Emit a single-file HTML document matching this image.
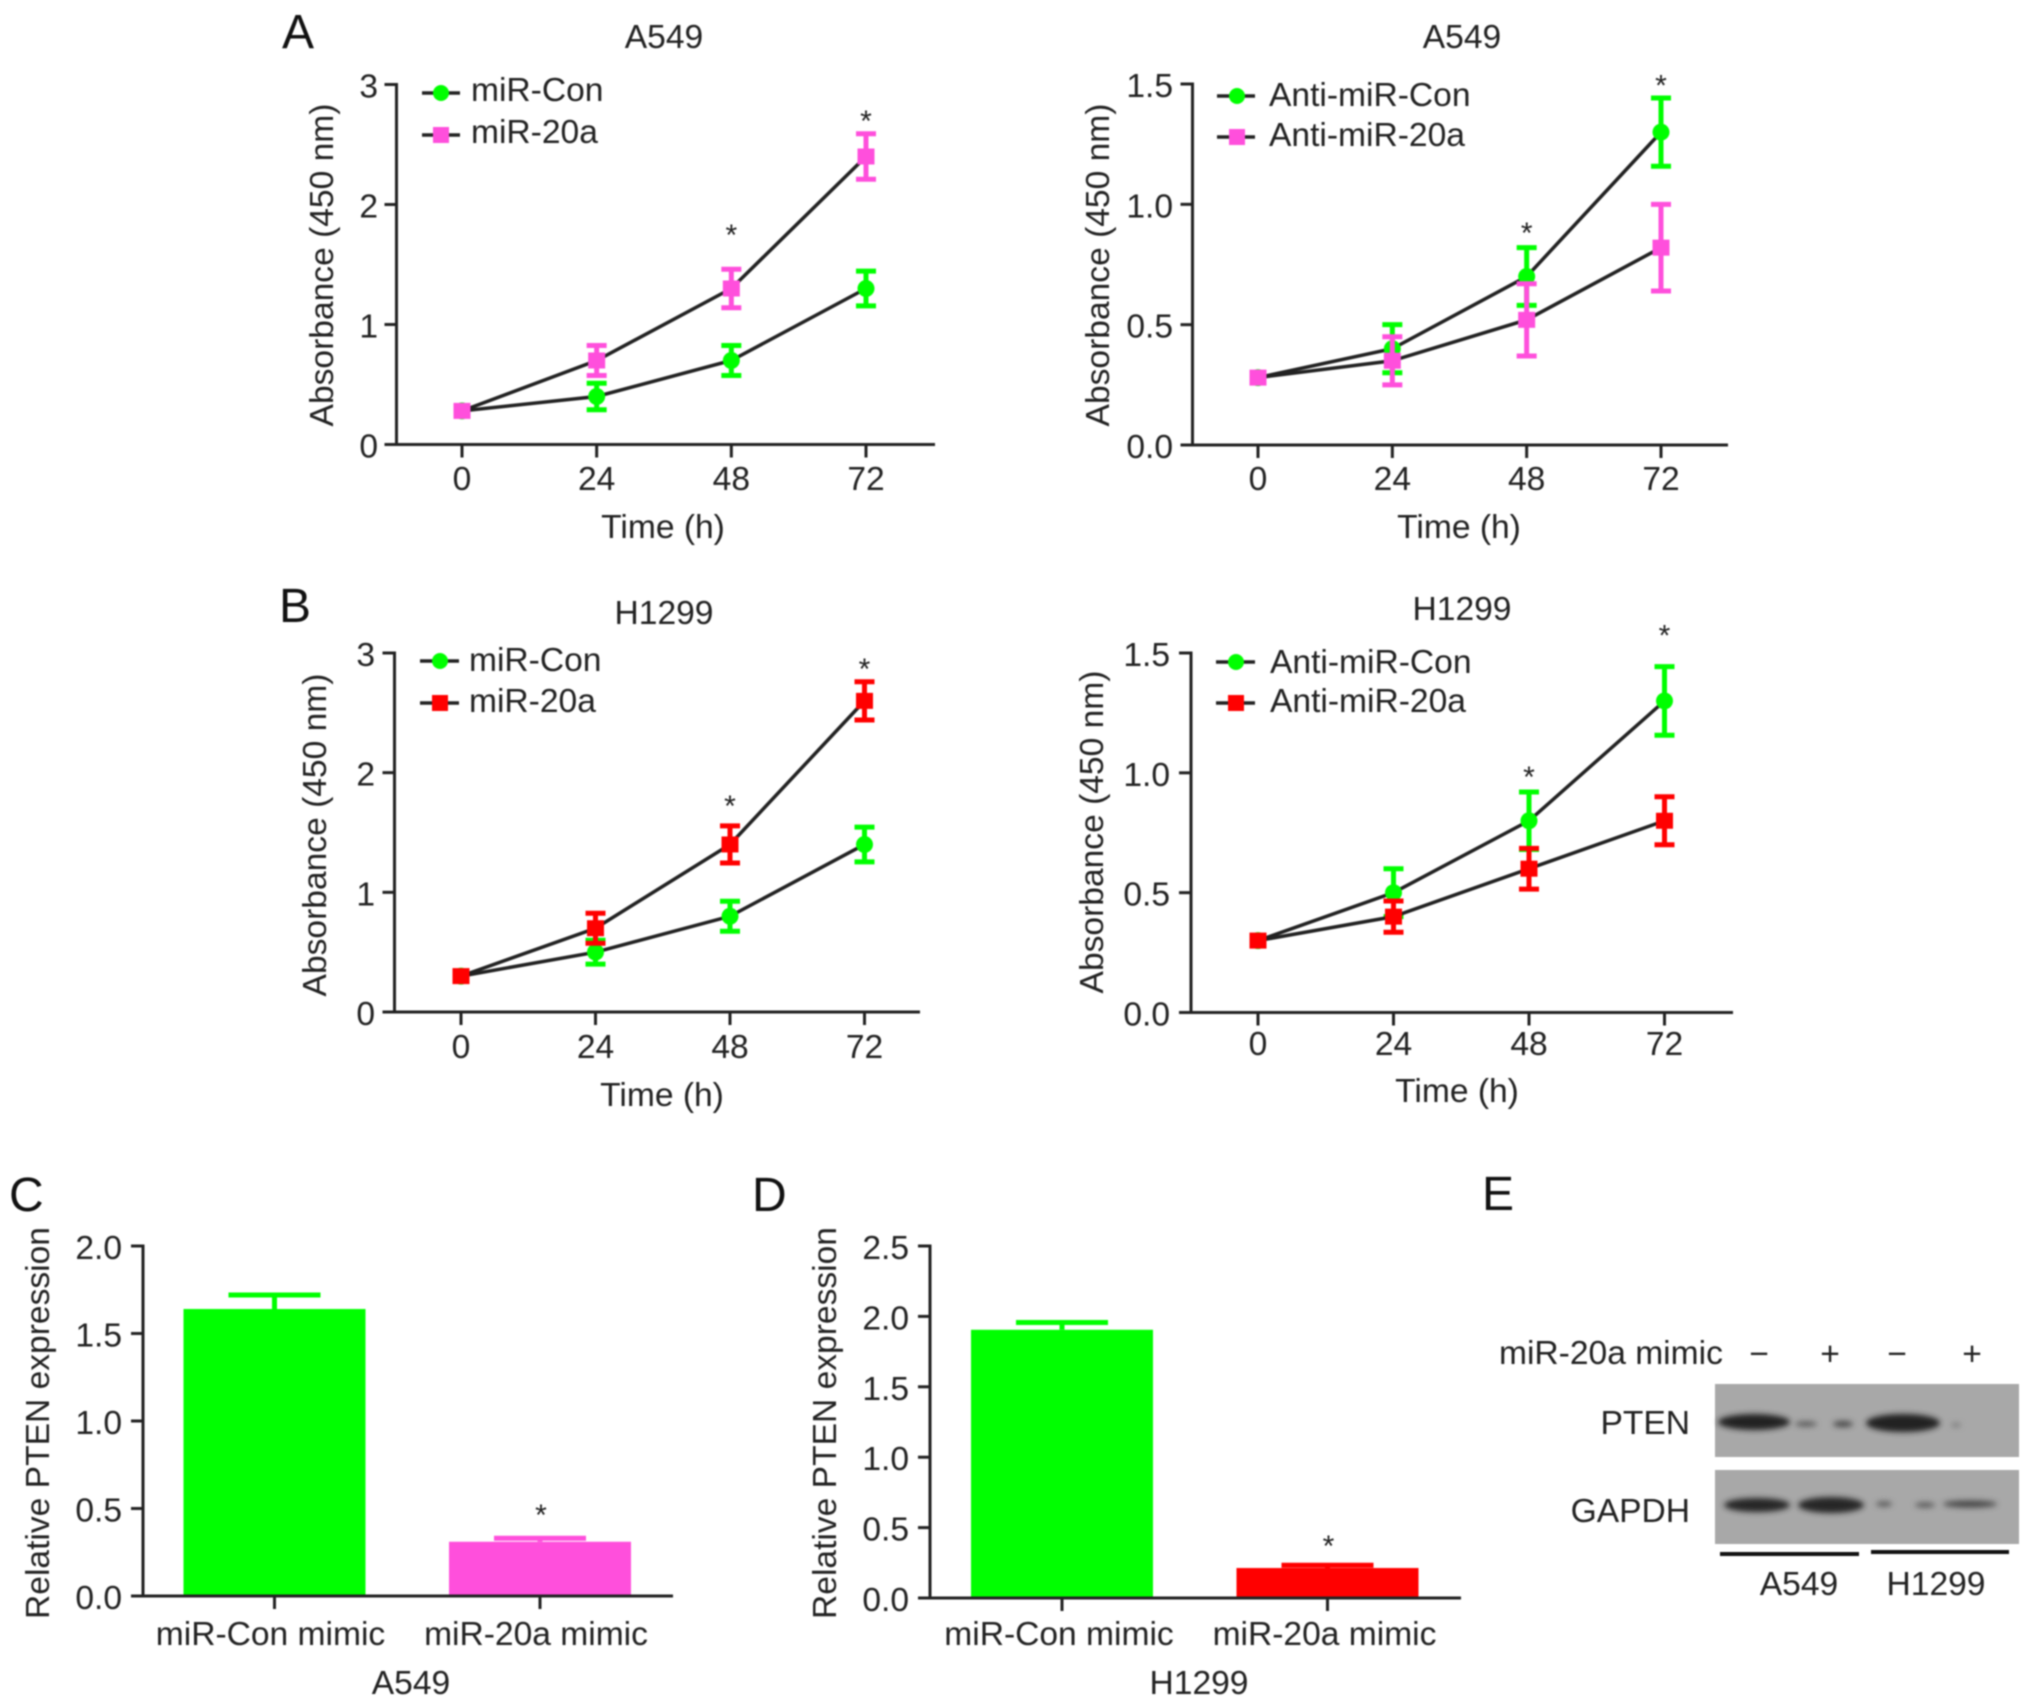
<!DOCTYPE html>
<html lang="en">
<head>
<meta charset="utf-8">
<title>PTEN and absorbance charts</title>
<style>
html,body{margin:0;padding:0;background:#fff;}
#figure{display:block;width:2032px;height:1708px;filter:blur(0.8px);}
text{font-family:"Liberation Sans",Arial,sans-serif;font-size:33.6px;fill:#222;}
.letter{font-size:48px;fill:#111;}
</style>
</head>
<body>
<svg id="figure" xmlns="http://www.w3.org/2000/svg" width="2032" height="1708" viewBox="0 0 2032 1708">
<defs>
<filter id="bandBlur" x="-30%" y="-80%" width="160%" height="260%"><feGaussianBlur stdDeviation="3"/></filter>
</defs>
<rect width="2032" height="1708" fill="#fff"/>

<!-- Panel A left -->
<g id="panel-a1">
<text class="letter" x="282" y="48">A</text>
<text x="664" y="48" text-anchor="middle">A549</text>
<text transform="translate(333,265) rotate(-90)" text-anchor="middle">Absorbance (450 nm)</text>
<text x="663" y="538" text-anchor="middle">Time (h)</text>
<g><line x1="422" x2="460" y1="93" y2="93" stroke="#222" stroke-width="3.5"/><circle cx="441" cy="93" r="8" fill="#00ff00"/><text x="471" y="101">miR-Con</text></g>
<g><line x1="422" x2="460" y1="135" y2="135" stroke="#222" stroke-width="3.5"/><rect x="433" y="127" width="16" height="16" fill="#ff4fdc"/><text x="471" y="143">miR-20a</text></g>
</g>

<!-- Panel A right -->
<g id="panel-a2">
<text x="1462" y="48" text-anchor="middle">A549</text>
<text transform="translate(1109,265) rotate(-90)" text-anchor="middle">Absorbance (450 nm)</text>
<text x="1459" y="538" text-anchor="middle">Time (h)</text>
<g><line x1="1217" x2="1255" y1="96" y2="96" stroke="#222" stroke-width="3.5"/><circle cx="1237" cy="96" r="8" fill="#00ff00"/><text x="1269" y="106">Anti-miR-Con</text></g>
<g><line x1="1217" x2="1255" y1="137" y2="137" stroke="#222" stroke-width="3.5"/><rect x="1229" y="129" width="16" height="16" fill="#ff4fdc"/><text x="1269" y="146">Anti-miR-20a</text></g>
</g>

<!-- Panel B left -->
<g id="panel-b1">
<text class="letter" x="279" y="622">B</text>
<text x="664" y="624" text-anchor="middle">H1299</text>
<text transform="translate(326,835) rotate(-90)" text-anchor="middle">Absorbance (450 nm)</text>
<text x="662" y="1106" text-anchor="middle">Time (h)</text>
<g><line x1="420" x2="459" y1="661" y2="661" stroke="#222" stroke-width="3.5"/><circle cx="440" cy="661" r="8" fill="#00ff00"/><text x="469" y="671">miR-Con</text></g>
<g><line x1="420" x2="459" y1="703" y2="703" stroke="#222" stroke-width="3.5"/><rect x="432" y="695" width="16" height="16" fill="#ff0000"/><text x="469" y="712">miR-20a</text></g>
</g>

<!-- Panel B right -->
<g id="panel-b2">
<text x="1462" y="620" text-anchor="middle">H1299</text>
<text transform="translate(1103,832) rotate(-90)" text-anchor="middle">Absorbance (450 nm)</text>
<text x="1457" y="1102" text-anchor="middle">Time (h)</text>
<g><line x1="1216" x2="1255" y1="662" y2="662" stroke="#222" stroke-width="3.5"/><circle cx="1236" cy="662" r="8" fill="#00ff00"/><text x="1270" y="673">Anti-miR-Con</text></g>
<g><line x1="1216" x2="1255" y1="703" y2="703" stroke="#222" stroke-width="3.5"/><rect x="1228" y="695" width="16" height="16" fill="#ff0000"/><text x="1270" y="712">Anti-miR-20a</text></g>
</g>

<!-- Panel C -->
<g id="panel-c">
<text class="letter" x="9" y="1211">C</text>
<text transform="translate(49,1423) rotate(-90)" text-anchor="middle">Relative PTEN expression</text>
<text x="411" y="1694" text-anchor="middle">A549</text>
</g>

<!-- Panel D -->
<g id="panel-d">
<text class="letter" x="752" y="1211">D</text>
<text transform="translate(836,1423) rotate(-90)" text-anchor="middle">Relative PTEN expression</text>
<text x="1199" y="1694" text-anchor="middle">H1299</text>
</g>

<!-- Panel E western blot -->
<g id="panel-e">
<text class="letter" x="1482" y="1210">E</text>
<text x="1499" y="1364">miR-20a mimic</text>
<text x="1759" y="1365" text-anchor="middle">−</text>
<text x="1830" y="1365" text-anchor="middle">+</text>
<text x="1897" y="1365" text-anchor="middle">−</text>
<text x="1972" y="1365" text-anchor="middle">+</text>
<text x="1690" y="1434" text-anchor="end">PTEN</text>
<text x="1690" y="1522" text-anchor="end">GAPDH</text>
<rect x="1715" y="1384" width="304" height="73" fill="#a8a8a8"/>
<rect x="1715" y="1470" width="304" height="74" fill="#a8a8a8"/>
<g filter="url(#bandBlur)" fill="#222">
<ellipse cx="1754" cy="1422" rx="36" ry="8"/>
<ellipse cx="1806" cy="1424" rx="11" ry="2.5" fill="#555"/>
<ellipse cx="1843" cy="1424" rx="10" ry="3" fill="#444"/>
<ellipse cx="1903" cy="1423" rx="37" ry="9"/>
<ellipse cx="1956" cy="1425" rx="5" ry="2" fill="#777"/>
</g>
<g filter="url(#bandBlur)" fill="#262626">
<ellipse cx="1757" cy="1505" rx="33" ry="7"/>
<ellipse cx="1831" cy="1505" rx="33" ry="8"/>
<ellipse cx="1884" cy="1504" rx="8" ry="2.5" fill="#555"/>
<ellipse cx="1925" cy="1505" rx="10" ry="2.5" fill="#555"/>
<ellipse cx="1970" cy="1504" rx="27" ry="3.5" fill="#444"/>
</g>
<line x1="1720" x2="1859" y1="1554" y2="1554" stroke="#111" stroke-width="4"/>
<line x1="1871" x2="2009" y1="1552" y2="1552" stroke="#111" stroke-width="4"/>
<text x="1799" y="1595" text-anchor="middle">A549</text>
<text x="1936" y="1595" text-anchor="middle">H1299</text>
</g>
</svg>

<script>
// ---- Chart data ----
const timeLabels = ["0", "24", "48", "72"];
const starTimeIndex = [2, 3];

const a1TickLabels = ["0", "1", "2", "3"];
const a1ConValues = [0.28, 0.4, 0.7, 1.3];
const a1ConErrors = [0, 0.11, 0.125, 0.145];
const a1MirValues = [0.28, 0.7, 1.3, 2.4];
const a1MirErrors = [0, 0.125, 0.16, 0.19];
const a1StarLevels = [1.78, 2.73];

const a2TickLabels = ["0.0", "0.5", "1.0", "1.5"];
const a2ConValues = [0.28, 0.4, 0.7, 1.3];
const a2ConErrors = [0, 0.1, 0.12, 0.142];
const a2MirValues = [0.28, 0.35, 0.52, 0.82];
const a2MirErrors = [0, 0.1, 0.15, 0.18];
const a2StarLevels = [0.897, 1.51];

const b1TickLabels = ["0", "1", "2", "3"];
const b1ConValues = [0.3, 0.5, 0.8, 1.4];
const b1ConErrors = [0, 0.1, 0.125, 0.145];
const b1MirValues = [0.3, 0.7, 1.4, 2.6];
const b1MirErrors = [0, 0.125, 0.155, 0.16];
const b1StarLevels = [1.756, 2.9];

const b2TickLabels = ["0.0", "0.5", "1.0", "1.5"];
const b2ConValues = [0.3, 0.5, 0.8, 1.3];
const b2ConErrors = [0, 0.1, 0.12, 0.143];
const b2MirValues = [0.3, 0.4, 0.6, 0.8];
const b2MirErrors = [0, 0.065, 0.085, 0.1];
const b2StarLevels = [1.0, 1.59];

const barCategories = ["miR-Con mimic", "miR-20a mimic"];
const cTickLabels = ["0.0", "0.5", "1.0", "1.5", "2.0"];
const cBarValues = [1.64, 0.31];
const cBarErrors = [0.08, 0.02];
const cStarLevels = [0.487];

const dTickLabels = ["0.0", "0.5", "1.0", "1.5", "2.0", "2.5"];
const dBarValues = [1.905, 0.213];
const dBarErrors = [0.052, 0.02];
const dStarLevels = [0.398];

// ---- Drawing helpers ----
const SVGNS = "http://www.w3.org/2000/svg";
function make(parent, tag, attrs, content) {
  const el = document.createElementNS(SVGNS, tag);
  for (const k in attrs) el.setAttribute(k, attrs[k]);
  if (content !== undefined) el.textContent = content;
  parent.appendChild(el);
  return el;
}
function linearScale(d0, d1, r0, r1) {
  return v => r0 + (v - d0) * (r1 - r0) / (d1 - d0);
}
function segment(parent, x1, y1, x2, y2, color, width) {
  return make(parent, "line", {x1: x1, y1: y1, x2: x2, y2: y2, stroke: color, "stroke-width": width});
}
function drawYAxis(g, L, tickLabels, yScale) {
  segment(g, L.axisX, yScale(parseFloat(tickLabels[tickLabels.length - 1])) - 1.5, L.axisX, L.y0 + 1.5, "#222", 3);
  tickLabels.forEach(t => {
    const y = yScale(parseFloat(t));
    const tick = segment(g, L.axisX - 12, y, L.axisX, y, "#222", 3);
    
    
    const lab = make(g, "text", {x: L.labelRight, y: y + 13, "text-anchor": "end"}, t);
    
    
  });
}
function drawSeries(g, values, errors, xScale, yScale, color, shape) {
  const pts = values.map((v, i) => xScale(i) + "," + yScale(v)).join(" ");
  const path = make(g, "polyline", {points: pts, fill: "none", stroke: "#222", "stroke-width": 3.5});
  
  
  values.forEach((v, i) => {
    const x = xScale(i), y = yScale(v), e = errors[i];
    if (e > 0) {
      const hi = yScale(v + e), lo = yScale(v - e);
      const bar = make(g, "g", {stroke: color, "stroke-width": 5});
      
      
      make(bar, "line", {x1: x, x2: x, y1: hi, y2: lo});
      make(bar, "line", {x1: x - 10, x2: x + 10, y1: hi, y2: hi});
      make(bar, "line", {x1: x - 10, x2: x + 10, y1: lo, y2: lo});
    }
    let mark;
    if (shape === "circle") {
      mark = make(g, "circle", {cx: x, cy: y, r: 8.5, fill: color});
    } else {
      mark = make(g, "rect", {x: x - 8.5, y: y - 8, width: 17, height: 16, fill: color});
    }
    
    
  });
}
function drawStar(g, x, y) {
  const s = make(g, "text", {x: x, y: y + 14, "text-anchor": "middle", style: "font-size:30px"}, "*");
  
  
}
function drawLineChart(id, L, tickLabels, conVals, conErrs, mirVals, mirErrs, starLevels, mirColor) {
  const g = document.getElementById(id);
  const top = parseFloat(tickLabels[tickLabels.length - 1]);
  const yScale = linearScale(0, top, L.y0, L.yTop);
  const xScale = linearScale(0, timeLabels.length - 1, L.x0, L.x3);
  drawYAxis(g, L, tickLabels, yScale);
  const xAxis = segment(g, L.axisX - 12, L.y0, L.xEnd, L.y0, "#222", 3);
  
  
  timeLabels.forEach((t, i) => {
    const x = xScale(i);
    const tick = segment(g, x, L.y0, x, L.y0 + 13, "#222", 3);
    
    
    const lab = make(g, "text", {x: x, y: L.xLabelY, "text-anchor": "middle"}, t);
    
    
  });
  drawSeries(g, conVals, conErrs, xScale, yScale, "#00ff00", "circle");
  drawSeries(g, mirVals, mirErrs, xScale, yScale, mirColor, "square");
  starLevels.forEach((s, i) => drawStar(g, xScale(starTimeIndex[i]), yScale(s)));
}
function drawBarChart(id, L, tickLabels, values, errors, starLevels, colors) {
  const g = document.getElementById(id);
  const top = parseFloat(tickLabels[tickLabels.length - 1]);
  const yScale = linearScale(0, top, L.y0, L.yTop);
  const xScale = linearScale(0, barCategories.length - 1, L.x0, L.x1);
  values.forEach((v, i) => {
    const x = xScale(i);
    const hi = yScale(v + errors[i]);
    const err = make(g, "g", {stroke: colors[i], "stroke-width": 5});
    
    
    make(err, "line", {x1: x, x2: x, y1: hi, y2: yScale(v)});
    make(err, "line", {x1: x - 46, x2: x + 46, y1: hi, y2: hi});
    const bar = make(g, "rect", {x: x - L.barW / 2, y: yScale(v), width: L.barW, height: L.y0 - yScale(v), fill: colors[i]});
    
    
  });
  drawYAxis(g, L, tickLabels, yScale);
  const xAxis = segment(g, L.axisX - 12, L.y0, L.xEnd, L.y0, "#222", 3);
  
  
  barCategories.forEach((c, i) => {
    const x = xScale(i);
    const tick = segment(g, x, L.y0, x, L.y0 + 13, "#222", 3);
    
    
    const lab = make(g, "text", {x: x + L.catShift, y: L.xLabelY, "text-anchor": "middle"}, c);
    
    
  });
  starLevels.forEach(s => drawStar(g, xScale(1) + 1, yScale(s)));
}

// ---- Render ----
drawLineChart("panel-a1", {axisX: 396.5, y0: 444.5, yTop: 84.5, x0: 462, x3: 866, xEnd: 935, labelRight: 378, xLabelY: 490},
  a1TickLabels, a1ConValues, a1ConErrors, a1MirValues, a1MirErrors, a1StarLevels, "#ff4fdc");
drawLineChart("panel-a2", {axisX: 1192.5, y0: 445, yTop: 84, x0: 1258, x3: 1661, xEnd: 1728, labelRight: 1173, xLabelY: 490},
  a2TickLabels, a2ConValues, a2ConErrors, a2MirValues, a2MirErrors, a2StarLevels, "#ff4fdc");
drawLineChart("panel-b1", {axisX: 394.5, y0: 1012, yTop: 653, x0: 461, x3: 864.5, xEnd: 920, labelRight: 375, xLabelY: 1058},
  b1TickLabels, b1ConValues, b1ConErrors, b1MirValues, b1MirErrors, b1StarLevels, "#ff0000");
drawLineChart("panel-b2", {axisX: 1191, y0: 1012.5, yTop: 653, x0: 1258, x3: 1664.5, xEnd: 1733, labelRight: 1170, xLabelY: 1055},
  b2TickLabels, b2ConValues, b2ConErrors, b2MirValues, b2MirErrors, b2StarLevels, "#ff0000");
drawBarChart("panel-c", {axisX: 143, y0: 1596, yTop: 1246, x0: 274.5, x1: 540, xEnd: 673, barW: 182, labelRight: 122, xLabelY: 1645, catShift: -4},
  cTickLabels, cBarValues, cBarErrors, cStarLevels, ["#00ff00", "#ff4fdc"]);
drawBarChart("panel-d", {axisX: 930, y0: 1598, yTop: 1246, x0: 1062, x1: 1327.5, xEnd: 1461, barW: 182, labelRight: 909, xLabelY: 1645, catShift: -3},
  dTickLabels, dBarValues, dBarErrors, dStarLevels, ["#00ff00", "#ff0000"]);
</script>
</body>
</html>
